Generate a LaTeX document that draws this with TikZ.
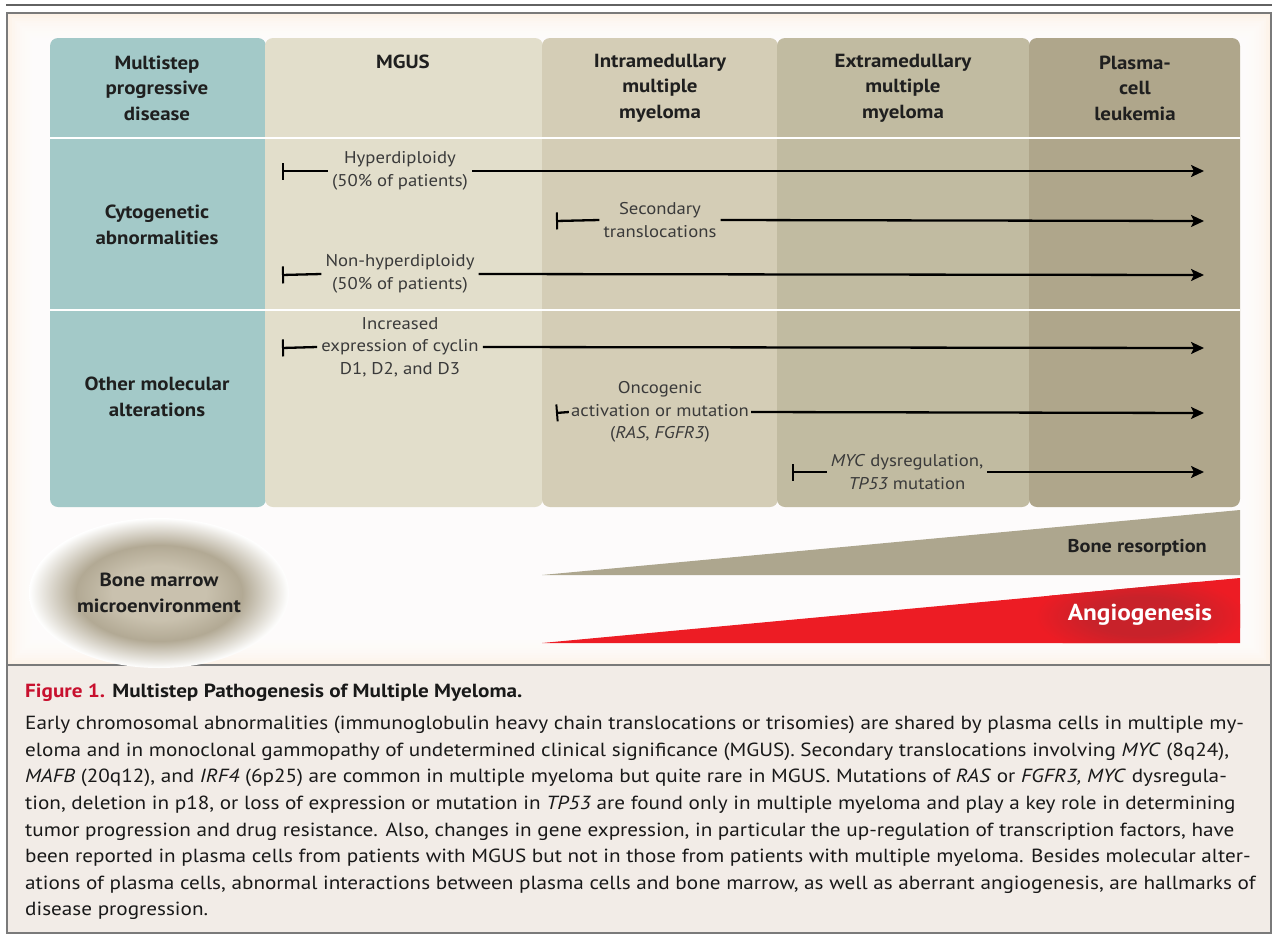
\documentclass[tikz,border=0pt]{standalone}
\usepackage{fontspec}
\setmainfont{PT Sans}[FakeStretch=1.1]
\newfontfamily\capfont{PT Sans}[FakeStretch=1.115]
\usetikzlibrary{arrows.meta,shapes.geometric}
\definecolor{peach}{HTML}{FDEFE1}
\definecolor{framegray}{HTML}{7A7A7A}
\definecolor{tealc}{HTML}{A3C9C8}
\definecolor{mgusc}{HTML}{E2DECB}
\definecolor{intrac}{HTML}{D4CDB6}
\definecolor{extrac}{HTML}{C1BBA1}
\definecolor{plasmac}{HTML}{AFA68B}
\definecolor{bonec}{HTML}{ADA68E}
\definecolor{angioc}{HTML}{ED1C24}
\definecolor{angiodark}{HTML}{C8222A}
\definecolor{capbg}{HTML}{F2ECE7}
\definecolor{figred}{HTML}{C8102E}
\definecolor{lblc}{HTML}{3A3A3A}
\definecolor{bmA}{HTML}{C9C1AE}
\definecolor{bmB}{HTML}{B2A994}
\pgfdeclareradialshading{bmshade}{\pgfpoint{0bp}{0bp}}{color(0bp)=(bmA);color(9bp)=(bmA);color(16bp)=(bmB);color(25bp)=(white);color(50bp)=(white)}
\pgfdeclareradialshading{angshade}{\pgfpoint{0bp}{0bp}}{color(0bp)=(angiodark);color(12bp)=(angiodark);color(25bp)=(angioc);color(50bp)=(angioc)}
\tikzset{
  hdr/.style={font=\bfseries\fontsize{19}{25.5}\selectfont, text=black!88, align=center, inner sep=0pt},
  lbl/.style={font=\fontsize{17}{22.5}\selectfont, text=lblc, align=center, inner sep=4pt},
  tl/.style={line width=2.3pt, black},
  teebar/.style={{Bar[width=17pt,line width=2pt]}-},
  arrowtip/.style={-{Stealth[length=13pt,width=12pt,inset=3pt]}},
  captext/.style={font=\capfont\fontsize{19}{26.7}\selectfont, text=black!90, anchor=base west, inner sep=0pt},
}
\begin{document}
\begin{tikzpicture}[x=1pt,y=-1pt]
\useasboundingbox (0,0) rectangle (1272,935);
\fill[white] (0,0) rectangle (1272,935);
% top rule and frame
\draw[framegray!80!black, line width=2.5pt] (6,5) -- (1272,5);
\fill[peach] (7,13) rectangle (1271,665);
\foreach \i in {0,...,11} {
  \fill[white, opacity=0.2] (7+2.5*\i,13+2.5*\i) rectangle (1271-2.5*\i,665-2.5*\i);
}
\fill[capbg] (7,665) rectangle (1271,933);
\draw[framegray, line width=2pt] (7,13) rectangle (1271,933);
\draw[framegray, line width=2pt] (7,665) -- (1271,665);
% columns
\fill[tealc, rounded corners=8pt] (50,38) rectangle (266,507);
\fill[mgusc, rounded corners=8pt] (265,38) rectangle (543,507);
\fill[intrac, rounded corners=8pt] (542,38) rectangle (778,507);
\fill[extrac, rounded corners=8pt] (777,38) rectangle (1030,507);
\fill[plasmac, rounded corners=8pt] (1029,38) rectangle (1240,507);
\draw[white, line width=2.2pt] (50,138) -- (1240,138);
\draw[white, line width=2.2pt] (50,310) -- (1240,310);
% headers
\node[hdr] (h0) at (157,88) {Multistep\\progressive\\disease};
\node[hdr] (h1) at (403,62) {MGUS};
\node[hdr] (h2) at (660,88) {Intramedullary\\multiple\\myeloma};
\node[hdr] (h3) at (903,88) {Extramedullary\\multiple\\myeloma};
\node[hdr] (h4) at (1135,88) {Plasma-\\cell\\leukemia};
\node[hdr] (r1) at (157,225) {Cytogenetic\\abnormalities};
\node[hdr] (r2) at (157,397) {Other molecular\\alterations};
% timelines
\coordinate (a1s) at (282,171); \coordinate (a1e) at (1204,171);
\node[lbl] (a1l) at (400,171) {Hyperdiploidy\\(50\% of patients)};
\draw[tl,teebar] (a1s) -- (a1l.west);
\draw[tl,arrowtip] (a1l.east) -- (a1e);
\coordinate (a2s) at (556,221); \coordinate (a2e) at (1204,221);
\node[lbl] (a2l) at (660,220) {Secondary\\translocations};
\draw[tl,teebar] (a2s) -- (a2l.west);
\draw[tl,arrowtip] (a2l.east) -- (a2e);
\coordinate (a3s) at (282,275); \coordinate (a3e) at (1204,275);
\node[lbl] (a3l) at (400,274) {Non-hyperdiploidy\\(50\% of patients)};
\draw[tl,teebar] (a3s) -- (a3l.west);
\draw[tl,arrowtip] (a3l.east) -- (a3e);
\coordinate (a4s) at (282,348); \coordinate (a4e) at (1204,348);
\node[lbl] (a4l) at (400,347) {Increased\\expression of cyclin\\D1, D2, and D3};
\draw[tl,teebar] (a4s) -- (a4l.west);
\draw[tl,arrowtip] (a4l.east) -- (a4e);
\coordinate (a5s) at (556,413); \coordinate (a5e) at (1204,413);
\node[lbl, inner xsep=2pt] (a5l) at (660,412) {Oncogenic\\activation or mutation\\(\textit{RAS}, \textit{FGFR3})};
\draw[tl,teebar] (a5s) -- (a5l.west);
\draw[tl,arrowtip] (a5l.east) -- (a5e);
\coordinate (a6s) at (792,472); \coordinate (a6e) at (1204,472);
\node[lbl] (a6l) at (907,472) {\textit{MYC} dysregulation,\\\textit{TP53} mutation};
\draw[tl,teebar] (a6s) -- (a6l.west);
\draw[tl,arrowtip] (a6l.east) -- (a6e);
% bone marrow
\shade[shading=bmshade] (159,593) ellipse [x radius=130, y radius=75];
\node[hdr, text=black!88] (bm) at (159,593) {Bone marrow\\microenvironment};
% triangles
\fill[bonec] (542,575) -- (1240,510) -- (1240,575) -- cycle;
\node[font=\bfseries\fontsize{18.5}{22}\selectfont, text=black!88, anchor=east, inner sep=0pt] (br) at (1207,548) {Bone resorption};
\fill[angioc] (542,643) -- (1240,578) -- (1240,643) -- cycle;
\begin{scope}
\clip (542,643) -- (1240,578) -- (1240,643) -- cycle;
\shade[shading=angshade] (1140,616) ellipse [x radius=105, y radius=40];
\end{scope}
\node[font=\bfseries\fontsize{23}{28}\selectfont, text=white, inner sep=0pt] (ang) at (1140,615) {Angiogenesis};
% caption
\node[captext, font=\capfont\bfseries\fontsize{19}{26.7}\selectfont] (ct) at (25,697) {\textcolor{figred}{Figure 1.} Multistep Pathogenesis of Multiple Myeloma.};
\node[captext] (c1) at (25,729) {Early chromosomal abnormalities (immunoglobulin heavy chain translocations or trisomies) are shared by plasma cells in multiple my-};
\node[captext] (c2) at (25,756) {eloma and in monoclonal gammopathy of undetermined clinical significance (MGUS). Secondary translocations involving \textit{MYC} (8q24),};
\node[captext] (c3) at (25,782) {\textit{MAFB} (20q12), and \textit{IRF4} (6p25) are common in multiple myeloma but quite rare in MGUS. Mutations of \textit{RAS} or \textit{FGFR3, MYC} dysregula-};
\node[captext] (c4) at (25,809) {tion, deletion in p18, or loss of expression or mutation in \textit{TP53} are found only in multiple myeloma and play a key role in determining};
\node[captext] (c5) at (25,836) {tumor progression and drug resistance. Also, changes in gene expression, in particular the up-regulation of transcription factors, have};
\node[captext] (c6) at (25,862) {been reported in plasma cells from patients with MGUS but not in those from patients with multiple myeloma. Besides molecular alter-};
\node[captext] (c7) at (25,889) {ations of plasma cells, abnormal interactions between plasma cells and bone marrow, as well as aberrant angiogenesis, are hallmarks of};
\node[captext] (c8) at (25,915) {disease progression.};
\end{tikzpicture}
\end{document}
